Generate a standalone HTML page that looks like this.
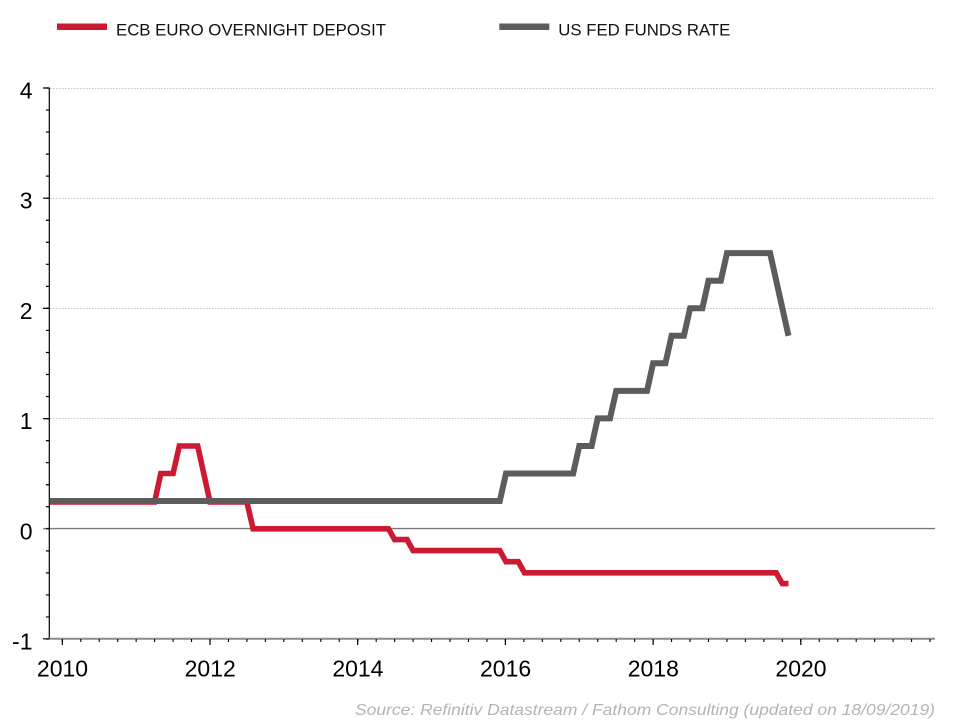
<!DOCTYPE html>
<html>
<head>
<meta charset="utf-8">
<style>
  html, body { margin: 0; padding: 0; background: #ffffff; }
  svg { display: block; }
  text { font-family: "Liberation Sans", sans-serif; }
</style>
</head>
<body>
<svg width="960" height="720" viewBox="0 0 960 720" xmlns="http://www.w3.org/2000/svg">
  <rect x="0" y="0" width="960" height="720" fill="#ffffff"/>

  <!-- Legend -->
  <rect x="57" y="23.5" width="50" height="6.5" fill="#cc1a33"/>
  <text x="116" y="35.5" font-size="16.7" fill="#111" textLength="270" lengthAdjust="spacingAndGlyphs">ECB EURO OVERNIGHT DEPOSIT</text>
  <rect x="499.3" y="23.5" width="50" height="6.5" fill="#5c5c5c"/>
  <text x="558.3" y="35.5" font-size="16.7" fill="#111" textLength="172" lengthAdjust="spacingAndGlyphs">US FED FUNDS RATE</text>

  <!-- Dotted gridlines -->
  <path d="M50 88.5H935M50 198.5H935M50 308.5H935M50 418.5H935" stroke="#c4c4c4" stroke-width="1" stroke-dasharray="1.5,1.5" fill="none"/>

  <!-- Zero line -->
  <line x1="43" y1="528.6" x2="935" y2="528.6" stroke="#7a7a7a" stroke-width="1.4"/>

  <!-- Y axis line -->
  <line x1="49.3" y1="87.8" x2="49.3" y2="639" stroke="#000" stroke-width="1.2"/>
  <!-- Y minor ticks (every 0.2) via dash pattern -->
  <line x1="47.6" y1="87.4" x2="47.6" y2="640" stroke="#000" stroke-width="3.4" stroke-dasharray="1.2 20.84"/>
  <!-- Y major ticks -->
  <path d="M43 88H49.3M43 198.2H49.3M43 308.4H49.3M43 418.6H49.3M43 638.8H49.3" stroke="#000" stroke-width="1.2" fill="none"/>

  <!-- Y labels -->
  <g font-size="23" fill="#000" text-anchor="end">
    <text x="32.5" y="98.5">4</text>
    <text x="32.5" y="208.7">3</text>
    <text x="32.5" y="318.9">2</text>
    <text x="32.5" y="429.1">1</text>
    <text x="32.5" y="539.3">0</text>
    <text x="32.5" y="649.5">-1</text>
  </g>

  <!-- X axis line -->
  <line x1="49.3" y1="638.8" x2="935" y2="638.8" stroke="#8a8a8a" stroke-width="2"/>
  <!-- X minor ticks (quarterly) via dash pattern -->
  <line x1="61.75" y1="640.5" x2="935" y2="640.5" stroke="#000" stroke-width="3" stroke-dasharray="1.1 17.3625"/>
  <!-- X major ticks -->
  <path d="M62.3 639V645M210 639V645M357.7 639V645M505.4 639V645M653.1 639V645M800.8 639V645" stroke="#000" stroke-width="1.2" fill="none"/>

  <!-- X labels -->
  <g font-size="23" fill="#000" text-anchor="middle">
    <text x="62.5" y="676.5">2010</text>
    <text x="210.2" y="676.5">2012</text>
    <text x="357.9" y="676.5">2014</text>
    <text x="505.6" y="676.5">2016</text>
    <text x="653.3" y="676.5">2018</text>
    <text x="801" y="676.5">2020</text>
  </g>

  <!-- ECB series -->
  <polyline fill="none" stroke="#cc1a33" stroke-width="5.6" stroke-linejoin="miter" stroke-linecap="butt"
    points="49.5,502 154.6,502 160.8,473.5 173.1,473.5 179.3,446 197.7,446 210,502 246.9,502 253.1,528.8 388.5,528.8 394.6,539.6 407,539.6 413.1,550.6 499.8,550.6 506,561.7 518.3,561.7 524.5,572.8 776.2,572.8 782.3,583.6 788.5,583.6"/>

  <!-- Fed series -->
  <polyline fill="none" stroke="#5c5c5c" stroke-width="6" stroke-linejoin="miter" stroke-linecap="butt"
    points="49.5,501 499.8,501 506,473.5 573.1,473.5 579.3,446 591.6,446 597.7,418.4 610,418.4 616.2,390.9 647,390.9 653.1,363.3 665.4,363.3 671.6,335.8 683.9,335.8 690.1,308.2 702.4,308.2 708.5,280.7 720.8,280.7 727,253.1 770.1,253.1 788.5,335.8"/>

  <!-- Source -->
  <text x="935" y="715" font-size="16" font-style="italic" fill="#b4b4b4" text-anchor="end" textLength="580" lengthAdjust="spacingAndGlyphs">Source: Refinitiv Datastream / Fathom Consulting (updated on 18/09/2019)</text>
</svg>
</body>
</html>
